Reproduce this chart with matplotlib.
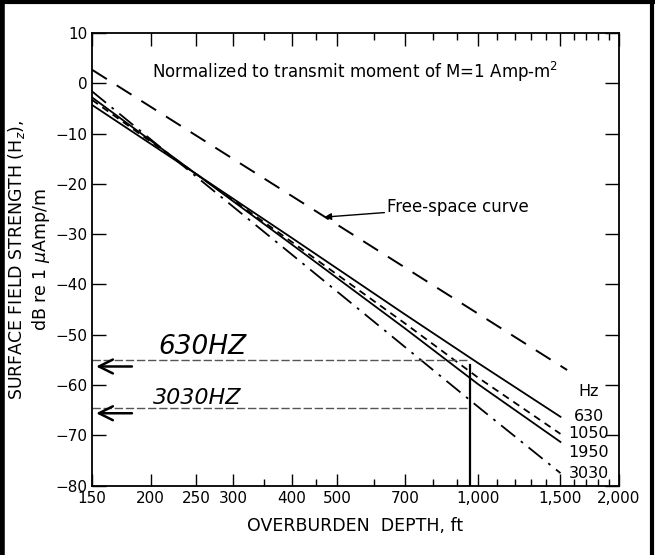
import numpy as np
import matplotlib
matplotlib.use("Agg")
import matplotlib.pyplot as plt
from matplotlib.ticker import FixedLocator, NullFormatter
from matplotlib.lines import Line2D

depth = [150, 250, 400, 700, 1000, 1500]
h_630 = [-4.3, -18.0, -30.7, -46.0, -55.6, -66.3]
h_1050 = [-3.3, -18.0, -31.5, -47.8, -58.5, -69.7]
h_1950 = [-2.8, -18.0, -32.0, -48.8, -59.8, -71.3]
h_3030 = [-1.6, -18.5, -34.0, -52.5, -64.3, -77.5]

free_depth = [150, 1550]
free_h = [2.7, -57.0]

freq_labels = ["630", "1050", "1950", "3030"]
freq_label_y = [-66.3, -69.7, -73.5, -77.5]

x_major = [150, 200, 250, 300, 400, 500, 700, 1000, 1500, 2000]
x_major_labels = ["150", "200", "250", "300", "400", "500", "700", "1,000", "1,500", "2,000"]
x_minor = [350, 450, 600, 800, 900, 1100, 1200, 1300, 1400, 1600, 1700, 1800, 1900]
y_ticks = [10, 0, -10, -20, -30, -40, -50, -60, -70, -80]

# hand-drawn marks on the scan
note_630_y = -55.1
note_3030_y = -64.5
note_depth = 960

fig = plt.figure(figsize=(6.55, 5.55), dpi=100)
ax = fig.add_axes([0.1405, 0.1249, 0.8045, 0.8156])

ax.plot(free_depth, free_h, color="black", lw=1.4, dashes=(9, 6))
ax.plot(depth, h_630, color="black", lw=1.3)
ax.plot(depth, h_1050, color="black", lw=1.3, dashes=(4, 3))
ax.plot(depth, h_1950, color="black", lw=1.3)
ax.plot(depth, h_3030, color="black", lw=1.3, dashes=(10, 4, 1.5, 4))

ax.set_xscale("log")
ax.set_xlim(150, 2000)
ax.set_ylim(-80, 10)
ax.xaxis.set_major_locator(FixedLocator(x_major))
ax.xaxis.set_minor_locator(FixedLocator(x_minor))
ax.set_xticklabels(x_major_labels)
ax.xaxis.set_minor_formatter(NullFormatter())
ax.set_yticks(y_ticks)
ax.set_yticklabels([str(v).replace("-", "\u2212") for v in y_ticks])

ax.tick_params(which="both", direction="in", top=True, right=True, labelsize=11, width=1)
ax.tick_params(which="major", length=9)
ax.tick_params(which="minor", length=5)
ax.tick_params(axis="y", length=10)
for sp in ax.spines.values():
    sp.set_linewidth(1.3)

ax.set_xlabel("OVERBURDEN  DEPTH, ft", fontsize=12.5, labelpad=8)
ax.set_ylabel("SURFACE FIELD STRENGTH (H$_z$),\ndB re 1 $\\mu$Amp/m", fontsize=12.5, labelpad=2)

ax.text(547, 2.3, "Normalized to transmit moment of M=1 Amp-m$^2$", fontsize=12, ha="center", va="center")

# free-space label with leader
ax.annotate("Free-space curve", xy=(470, -26.6), xytext=(640, -24.6), fontsize=12, va="center", ha="left",
            arrowprops=dict(arrowstyle="-|>", color="black", lw=1, mutation_scale=10, shrinkA=0, shrinkB=0))

ax.text(1726, -61.3, "Hz", fontsize=11.5, ha="center", va="center")
for lab, yv in zip(freq_labels, freq_label_y):
    ax.text(1726, yv, lab, fontsize=11.5, ha="center", va="center")

# handwritten notes
ax.plot([150, note_depth], [note_630_y, note_630_y], color="#555555", lw=1, ls=(0, (6, 2)))
ax.plot([150, note_depth], [note_3030_y, note_3030_y], color="#555555", lw=1, ls=(0, (6, 2)))
ax.plot([note_depth, note_depth], [-56.0, -80], color="black", lw=1.6)
ax.annotate("", xy=(151, -56.3), xytext=(185, -56.3),
            arrowprops=dict(arrowstyle="->", color="black", lw=1.8, mutation_scale=25))
ax.annotate("", xy=(151, -65.6), xytext=(185, -65.6),
            arrowprops=dict(arrowstyle="->", color="black", lw=1.8, mutation_scale=25))
ax.text(258, -52.4, "630HZ", fontsize=19, style="italic", ha="center", va="center", family="DejaVu Sans")
ax.text(251, -62.6, "3030HZ", fontsize=16, style="italic", ha="center", va="center", family="DejaVu Sans")

# outer border of the scanned page
fig.add_artist(Line2D([0.003, 0.003], [0, 1], transform=fig.transFigure, color="black", lw=4))
fig.add_artist(Line2D([0.995, 0.995], [0, 0.995], transform=fig.transFigure, color="black", lw=3))
fig.add_artist(Line2D([0, 1], [0.997, 0.997], transform=fig.transFigure, color="black", lw=3))

plt.savefig("out.png", dpi=100)
